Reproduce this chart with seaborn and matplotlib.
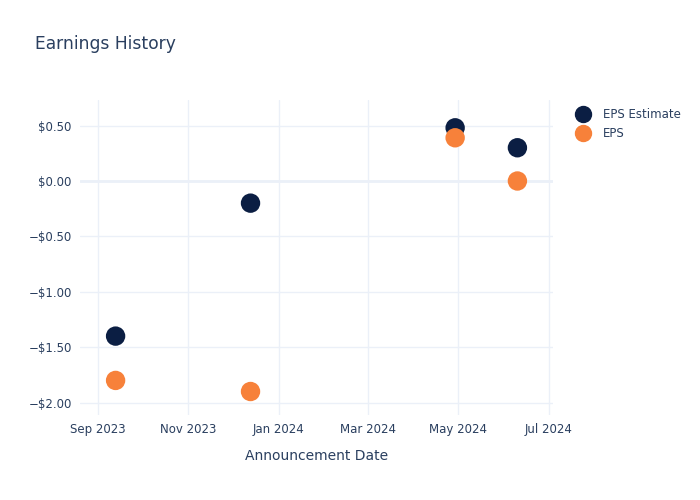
import matplotlib
matplotlib.use("Agg")
import matplotlib.pyplot as plt
import matplotlib.dates as mdates
from matplotlib.ticker import FuncFormatter
from matplotlib.lines import Line2D
import seaborn as sns
import pandas as pd

dates = ["2023-09-13", "2023-12-13", "2024-04-29", "2024-06-10"]
eps_estimate = [-1.40, -0.20, 0.48, 0.30]
eps_actual = [-1.80, -1.90, 0.39, 0.00]
series_names = ["EPS Estimate", "EPS"]
colors = ["#0b1e43", "#f7813a"]

df = pd.DataFrame({
    "Announcement Date": pd.to_datetime(dates * 2),
    "Value": eps_estimate + eps_actual,
    "Series": [series_names[0]] * len(dates) + [series_names[1]] * len(dates),
})

sns.set_style("white")
plt.rcParams['font.family'] = ['DejaVu Sans']
text_color = "#2a3f5f"
grid_color = "#ebf0f8"

fig = plt.figure(figsize=(7, 5), dpi=100)
ax = fig.add_axes([80/700, 1 - 415/500, (553 - 80)/700, (415 - 100)/500])

sns.scatterplot(data=df, x="Announcement Date", y="Value", hue="Series",
                palette=colors, s=195, linewidth=0, ax=ax, zorder=3, legend=False)

ax.set_xlim(pd.Timestamp("2023-08-20"), pd.Timestamp("2024-07-04"))
ax.set_ylim(-2.112, 0.731)

ax.xaxis.set_major_locator(mdates.MonthLocator(bymonth=[1, 3, 5, 7, 9, 11]))
ax.xaxis.set_major_formatter(mdates.DateFormatter("%b %Y"))
ax.set_yticks([-2.0, -1.5, -1.0, -0.5, 0.0, 0.5])

def fmt(v, pos):
    s = f"${abs(v):.2f}"
    return ("\u2212" + s) if v < -1e-9 else s
ax.yaxis.set_major_formatter(FuncFormatter(fmt))

ax.grid(True, color=grid_color, linewidth=1)
ax.axhline(0, color=grid_color, linewidth=2, zorder=1)
for sp in ax.spines.values():
    sp.set_visible(False)
ax.tick_params(axis='both', length=0, labelsize=8.5, colors=text_color, pad=6)

ax.set_xlabel("Announcement Date", fontsize=10, color=text_color, labelpad=9)
ax.set_ylabel("")

fig.text(35/700, 1 - 44/500, "Earnings History", fontsize=12.3, color=text_color, va="center")

handles = [Line2D([], [], marker='o', linestyle='', markersize=11.5, color=c) for c in colors]
fig.legend(handles, series_names, loc="upper left", bbox_to_anchor=(572/700, 1 - 103/500),
           frameon=False, fontsize=8.5, labelcolor=text_color, handletextpad=1.2,
           labelspacing=0.55, handlelength=1.0, borderaxespad=0)

fig.savefig("out.png", dpi=100, facecolor="white")
